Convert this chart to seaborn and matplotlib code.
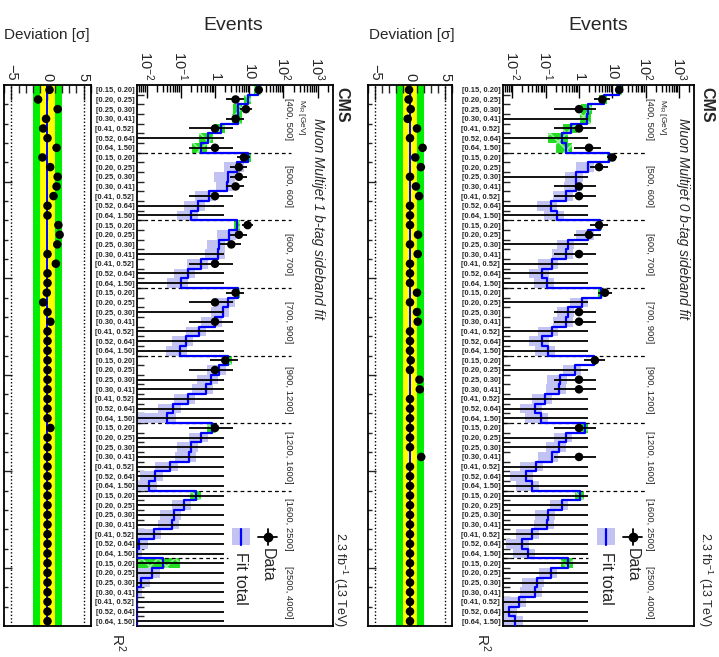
import numpy as np
import matplotlib
matplotlib.use("Agg")
import matplotlib.pyplot as plt
import seaborn as sns
from matplotlib.lines import Line2D
from matplotlib.patches import Rectangle
from matplotlib.ticker import LogLocator, NullFormatter, FixedLocator

# ---------------- data ----------------
mr_bins = ["[400, 500]", "[500, 600]", "[600, 700]", "[700, 900]",
           "[900, 1200]", "[1200, 1600]", "[1600, 2500]", "[2500, 4000]"]
r2_bins = ["[0.15, 0.20]", "[0.20, 0.25]", "[0.25, 0.30]", "[0.30, 0.41]",
           "[0.41, 0.52]", "[0.52, 0.64]", "[0.64, 1.50]"]
events_ticks = [1e-2, 1e-1, 1, 10, 1e2, 1e3]
events_tick_labels = ["$10^{-2}$", "$10^{-1}$", "1", "10", "$10^{2}$", "$10^{3}$"]
dev_ticks = [-5, 0, 5]
dev_tick_labels = ["\u22125", "0", "5"]

# Muon Multijet 1 b-tag: fit total per bin (56 = 8 MR x 7 R2)
fit_1b = [18, 9.1, 4.8, 4.6, 1.5, 0.61, 0.39,
          9.1, 4.5, 2.4, 2.3, 0.65, 0.31, 0.2,
          4.4, 2.6, 1.3, 1.25, 0.39, 0.16, 0.1,
          4.6, 2.4, 1.7, 1.0, 0.35, 0.14, 0.095,
          2.4, 1.34, 0.76, 0.54, 0.16, 0.061, 0.039,
          0.82, 0.39, 0.2, 0.17, 0.05, 0.018, 0.012,
          0.28, 0.125, 0.063, 0.055, 0.016, 0.006, 0.004,
          0.031, 0.014, 0.007, 0.004, 0.003, 0.003, 0.003]
fit_err_1b = [0.25, 0.25, 0.3, 0.3, 0.35, 0.45, 0.45,
              0.2, 0.6, 0.6, 0.55, 0.6, 0.6, 0.6,
              0.2, 0.55, 0.55, 0.6, 0.6, 0.6, 0.6,
              0.2, 0.55, 0.55, 0.6, 0.6, 0.6, 0.6,
              0.3, 0.55, 0.6, 0.6, 0.6, 0.65, 0.9,
              0.3, 0.55, 0.6, 0.6, 0.65, 0.65, 0.7,
              0.35, 0.55, 0.6, 0.6, 0.65, 0.8, 0.8,
              2.0, 0.8, 0.8, 0.8, 0.8, 0.8, 0.8]
data_1b = [19, 4, 8, 4, 1, 0, 1,
           7, 5, 5, 4, 1, 0, 0,
           9, 5, 3, 0, 1, 0, 0,
           4, 1, 0, 1, 0, 0, 0,
           2, 1, 0, 0, 0, 0, 0,
           1, 0, 0, 0, 0, 0, 0,
           0, 0, 0, 0, 0, 0, 0,
           0, 0, 0, 0, 0, 0, 0]
dev_1b = [0.28, -1.3, 1.4, -0.2, -0.6, 0, 1.25,
          -0.7, 0.37, 1.4, 1.25, 0.83, 0, 0,
          1.5, 1.67, 1.35, 0, 1.15, 0, 0,
          -0.1, -0.6, 0, 0.4, 0, 0, 0,
          0, 0, 0, 0, 0, 0, 0,
          0.4, 0, 0, 0, 0, 0, 0,
          0, 0, 0, 0, 0, 0, 0,
          0, 0, 0, 0, 0, 0, 0]

# Muon Multijet 0 b-tag
fit_0b = [15.8, 5.5, 1.8, 1.7, 0.59, 0.3, 0.42,
          8, 1.8, 0.83, 0.8, 0.42, 0.14, 0.22,
          4.4, 1.8, 0.47, 0.4, 0.15, 0.078, 0.11,
          4.5, 1.2, 0.47, 0.42, 0.15, 0.078, 0.12,
          2.9, 0.75, 0.27, 0.25, 0.094, 0.048, 0.07,
          1.5, 0.4, 0.25, 0.15, 0.05, 0.025, 0.038,
          1.1, 0.3, 0.12, 0.11, 0.038, 0.019, 0.03,
          0.47, 0.14, 0.055, 0.047, 0.016, 0.008, 0.012]
fit_err_0b = [0.2, 0.3, 0.35, 0.35, 0.45, 0.6, 0.5,
              0.15, 0.55, 0.55, 0.55, 0.6, 0.6, 0.6,
              0.15, 0.55, 0.55, 0.6, 0.6, 0.6, 0.6,
              0.15, 0.55, 0.55, 0.6, 0.6, 0.6, 0.6,
              0.15, 0.55, 0.6, 0.6, 0.6, 0.65, 0.65,
              0.2, 0.55, 0.6, 0.6, 0.65, 0.65, 0.65,
              0.3, 0.55, 0.6, 0.6, 0.65, 0.65, 0.65,
              0.4, 0.55, 0.65, 0.65, 0.65, 0.7, 0.8]
data_0b = [16, 5, 1, 0, 1, 0, 2,
           10, 4, 0, 1, 1, 0, 0,
           4, 2, 0, 1, 0, 0, 0,
           6, 0, 1, 1, 0, 0, 0,
           3, 0, 1, 1, 0, 0, 0,
           1, 0, 0, 1, 0, 0, 0,
           0, 0, 0, 0, 0, 0, 0,
           0, 0, 0, 0, 0, 0, 0]
dev_0b = [-0.14, -0.2, 0.1, -0.33, 1.0, 0, 1.8,
          0.75, 1.55, 0, 0.85, 1.3, 0, 0,
          0, 1.15, 0, 1.1, 0, 0, 0,
          1.0, 0, 1.0, 1.1, 0, 0, 0,
          0.1, 0, 1.35, 1.4, 0, 0, 0,
          0, 0, 0, 1.6, 0, 0, 0,
          0, 0, 0, 0, 0, 0, 0,
          0, 0, 0, 0, 0, 0, 0]

# Garwood 68% intervals for observed counts
poisson_lo = [0, 0.173, 0.708, 1.367, 2.086, 2.840, 3.620, 4.419, 5.232, 6.057, 6.891,
              7.734, 8.585, 9.441, 10.30, 11.17, 12.04, 12.92, 13.80, 14.68, 15.57]
poisson_hi = [1.841, 3.300, 4.638, 5.918, 7.163, 8.382, 9.584, 10.77, 11.95, 13.11, 14.27,
              15.42, 16.56, 17.70, 18.83, 19.96, 21.08, 22.20, 23.32, 24.44, 25.55]

# ---------------- style ----------------
sns.set_style("ticks")
plt.rcParams["font.family"] = ["Liberation Sans", "DejaVu Sans"]
plt.rcParams["mathtext.fontset"] = "custom"
plt.rcParams["mathtext.rm"] = "Liberation Sans"
plt.rcParams["mathtext.it"] = "Liberation Sans:italic"
plt.rcParams["mathtext.bf"] = "Liberation Sans:bold"
plt.rcParams["hatch.linewidth"] = 1.2

W, H = 719, 657
TOP, BOTTOM = 85, 626
XMIN, XMAX = 10 ** -2.28, 10 ** 3.45
BLUE = "#0000ff"
LIGHT = "#c3c3f3"

nbins = len(mr_bins) * len(r2_bins)
centers = np.arange(nbins) + 0.5
edges = np.arange(nbins + 1)


def fx(px):
    return px / W


def fy(py):
    return 1 - py / H


def box(x0, x1):
    return [fx(x0), fy(BOTTOM), (x1 - x0) / W, (BOTTOM - TOP) / H]


def draw_panel(fig, spec, fit, fit_err, data, dev, title):
    dx = spec["dx"]
    fit = np.array(fit, dtype=float)
    rel = np.array(fit_err, dtype=float)
    data = np.array(data, dtype=int)
    dev = np.array(dev, dtype=float)
    mr_idx = np.arange(nbins) // len(r2_bins)
    r2_idx = np.arange(nbins) % len(r2_bins)
    fit_region = (mr_idx == 0) | (r2_idx == 0)

    # ---- main panel ----
    ax = fig.add_axes(box(*spec["main"]))
    ax.set_xscale("log")
    ax.set_xlim(XMIN, XMAX)
    ax.set_ylim(nbins, 0)

    lo = np.clip(fit * (1 - rel), 1e-5, None)
    hi = fit * (1 + rel)
    ax.barh(centers[~fit_region], (hi - lo)[~fit_region], left=lo[~fit_region],
            height=1, color=LIGHT, linewidth=0, zorder=1)
    ax.barh(centers[fit_region], (hi - lo)[fit_region], left=lo[fit_region],
            height=1, facecolor="#22dd22", edgecolor="#9cf29c", hatch="xx",
            linewidth=0, zorder=1)

    fit_draw = np.clip(fit, XMIN * 1.03, None)
    xs = np.repeat(fit_draw, 2)
    ys = np.column_stack([edges[:-1], edges[1:]]).ravel()
    sns.lineplot(x=xs, y=ys, sort=False, estimator=None, color=BLUE,
                 linewidth=1.6, ax=ax, zorder=3)

    # separators between MR bins
    seps = edges[len(r2_bins):nbins:len(r2_bins)]
    ax.hlines(seps[:-1], XMIN, spec["dash_end"], colors="black",
              linestyles=(0, (3, 2.5)), linewidth=0.9, zorder=2)
    ax.hlines(seps[-1:], XMIN, spec["dash_last"], colors="black",
              linestyles=(0, (3, 2.5)), linewidth=0.9, zorder=2)

    # data
    d_lo = np.array([poisson_lo[n] for n in data])
    d_hi = np.array([poisson_hi[n] for n in data])
    d_lo = np.where(data == 0, 1e-5, d_lo)
    ax.hlines(centers, d_lo, d_hi, colors="black", linewidth=1.3, zorder=4)
    nz = data > 0
    sns.scatterplot(x=data[nz], y=centers[nz], color="black", s=38,
                    edgecolor="none", ax=ax, zorder=5, legend=False)

    # MR labels
    for k, lab in enumerate(mr_bins):
        ax.text(spec["mr_x"], (k + 0.5) * len(r2_bins), lab, rotation=-90,
                ha="center", va="center", fontsize=6.8)
    ax.text(spec["mr_x"] * 2.35, 1.5, "M$_{\\rm R}$ [GeV]", rotation=-90,
            ha="center", va="top", fontsize=6.0)

    # axes cosmetics
    ax.xaxis.tick_top()
    ax.xaxis.set_major_locator(FixedLocator(events_ticks))
    ax.set_xticklabels(events_tick_labels)
    ax.xaxis.set_minor_locator(LogLocator(base=10, subs=np.arange(2, 10), numticks=20))
    ax.xaxis.set_minor_formatter(NullFormatter())
    ax.tick_params(axis="x", which="both", direction="in", top=True, bottom=False,
                   labelrotation=-90, labelsize=10.5, pad=3, color="black")
    ax.tick_params(axis="x", which="major", length=9, width=1)
    ax.tick_params(axis="x", which="minor", length=5, width=1)
    ax.set_yticks(centers)
    ax.set_yticklabels(r2_bins * len(mr_bins))
    ax.set_yticks(edges[1:-1], minor=True)
    ax.tick_params(axis="y", which="major", length=0, pad=2, labelsize=5.4)
    ax.tick_params(axis="y", which="minor", direction="in", length=5, width=1,
                   left=True, right=False)
    for lbl in ax.get_yticklabels():
        lbl.set_fontweight("bold")
    for s in ax.spines.values():
        s.set_linewidth(1.3)
        s.set_color("black")
    ax.set_xlabel("")
    ax.set_ylabel("")

    # ---- deviation panel ----
    axd = fig.add_axes(box(*spec["dev"]))
    axd.set_xlim(-6, 6)
    axd.set_ylim(nbins, 0)
    axd.axvspan(-2, 2, color="#00ee00", linewidth=0, zorder=0)
    axd.axvspan(-1, 1, color="#ffff00", linewidth=0, zorder=0)
    axd.axvline(0, color=BLUE, linewidth=1.4, zorder=1)
    for v in (-5, 5):
        axd.axvline(v, color="black", linestyle=(0, (1, 1.5)), linewidth=1.0, zorder=1)
    sns.scatterplot(x=dev, y=centers, color="black", s=38, edgecolor="none",
                    ax=axd, zorder=3, legend=False)
    axd.xaxis.tick_top()
    axd.set_xticks(dev_ticks)
    axd.set_xticklabels(dev_tick_labels)
    axd.set_xticks(np.arange(-6, 7), minor=True)
    axd.tick_params(axis="x", which="both", direction="in", top=True, bottom=False,
                    labelrotation=-90, labelsize=10.5, pad=3)
    axd.tick_params(axis="x", which="major", length=11, width=1)
    axd.tick_params(axis="x", which="minor", length=6, width=1)
    axd.set_yticks(edges[10:nbins:10])
    axd.set_yticks(edges[2:nbins:2], minor=True)
    axd.set_yticklabels([])
    axd.tick_params(axis="y", which="major", direction="in", length=6, width=1)
    axd.tick_params(axis="y", which="minor", direction="in", length=3, width=1)
    for s in axd.spines.values():
        s.set_linewidth(1.3)
        s.set_color("black")
    axd.set_xlabel("")
    axd.set_ylabel("")

    # ---- texts ----
    fig.text(fx(233 + dx), fy(25), "Events", fontsize=14, ha="center", va="center")
    fig.text(fx(47 + dx), fy(35), "Deviation [\u03c3]", fontsize=11, ha="center", va="center")
    fig.text(fx(118 + dx), fy(642), "R$^{2}$", fontsize=11, rotation=-90,
             ha="center", va="center")
    fig.text(fx(342 + dx), fy(87), "CMS", fontsize=11.5, weight="bold", rotation=-90,
             ha="center", va="top")
    fig.text(fx(318 + dx), fy(118), title, fontsize=9.8, style="italic", rotation=-90,
             ha="center", va="top")
    fig.text(fx(340 + dx), fy(627), "2.3 fb$^{-1}$ (13 TeV)", fontsize=9, rotation=-90,
             ha="center", va="bottom")

    # ---- legend ----
    lx = spec["leg"]
    fig.add_artist(Line2D([fx(lx + 17), fx(lx + 36)], [fy(537), fy(537)],
                          color="black", linewidth=1.3))
    fig.add_artist(Line2D([fx(lx + 26.5), fx(lx + 26.5)], [fy(529), fy(545)],
                          color="black", linewidth=1.3))
    fig.add_artist(Line2D([fx(lx + 26.5)], [fy(537)], marker="o", markersize=6,
                          color="black", linestyle="none"))
    fig.text(fx(lx + 26.5), fy(548), "Data", fontsize=11.5, rotation=-90,
             ha="center", va="top")
    fig.add_artist(Rectangle((fx(lx - 9), fy(545)), 18 / W, 17 / H,
                             facecolor=LIGHT, edgecolor="none"))
    fig.add_artist(Line2D([fx(lx), fx(lx)], [fy(529), fy(545)],
                          color=BLUE, linewidth=1.6))
    fig.text(fx(lx), fy(552), "Fit total", fontsize=11.5, rotation=-90,
             ha="center", va="top")


panels = [
    dict(dx=0, dev=(4, 91), main=(137, 333), dash_end=10 ** 2.22,
         dash_last=10 ** 0.38, mr_x=10 ** 2.15, leg=241),
    dict(dx=365, dev=(368, 452), main=(503, 694), dash_end=10 ** 2.05,
         dash_last=10 ** 0.28, mr_x=10 ** 2.12, leg=606),
]

fig = plt.figure(figsize=(W / 100, H / 100), dpi=100)
draw_panel(fig, panels[0], fit_1b, fit_err_1b, data_1b, dev_1b,
           "Muon Multijet 1 b-tag sideband fit")
draw_panel(fig, panels[1], fit_0b, fit_err_0b, data_0b, dev_0b,
           "Muon Multijet 0 b-tag sideband fit")
fig.savefig("out.png", dpi=100)
